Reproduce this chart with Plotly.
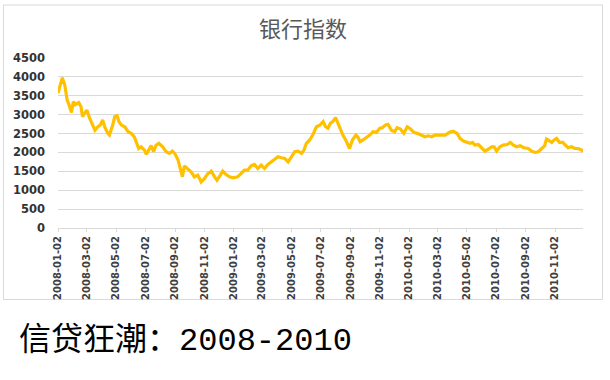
import plotly.graph_objects as go

# ---- data ----
dates = [
    "2008-01-02", "2008-01-11", "2008-01-16", "2008-01-21", "2008-01-25", "2008-01-30",
    "2008-02-03", "2008-02-07", "2008-02-14", "2008-02-19", "2008-02-22", "2008-02-26",
    "2008-03-02", "2008-03-08", "2008-03-15", "2008-03-19", "2008-03-25", "2008-03-30",
    "2008-04-04", "2008-04-08", "2008-04-15", "2008-04-18", "2008-04-25", "2008-04-29",
    "2008-05-04", "2008-05-08", "2008-05-13", "2008-05-20", "2008-05-27", "2008-06-03",
    "2008-06-09", "2008-06-14", "2008-06-18", "2008-06-23", "2008-06-30", "2008-07-04",
    "2008-07-09", "2008-07-14", "2008-07-19", "2008-07-24", "2008-07-30", "2008-08-07",
    "2008-08-14", "2008-08-21", "2008-08-27", "2008-09-01", "2008-09-08", "2008-09-12",
    "2008-09-17", "2008-09-21", "2008-09-28", "2008-10-05", "2008-10-12", "2008-10-19",
    "2008-10-26", "2008-11-02", "2008-11-09", "2008-11-16", "2008-11-23", "2008-11-28",
    "2008-12-05", "2008-12-10", "2008-12-17", "2008-12-24", "2009-01-01", "2009-01-10",
    "2009-01-17", "2009-01-24", "2009-01-31", "2009-02-07", "2009-02-14", "2009-02-21",
    "2009-02-28", "2009-03-07", "2009-03-14", "2009-03-21", "2009-03-28", "2009-04-04",
    "2009-04-11", "2009-04-18", "2009-04-25", "2009-05-02", "2009-05-09", "2009-05-16",
    "2009-05-23", "2009-05-28", "2009-06-02", "2009-06-09", "2009-06-16", "2009-06-23",
    "2009-06-30", "2009-07-07", "2009-07-12", "2009-07-17", "2009-07-22", "2009-07-27",
    "2009-08-02", "2009-08-07", "2009-08-12", "2009-08-17", "2009-08-23", "2009-08-28",
    "2009-08-31", "2009-09-06", "2009-09-13", "2009-09-17", "2009-09-22", "2009-09-28",
    "2009-10-05", "2009-10-12", "2009-10-19", "2009-10-26", "2009-11-02", "2009-11-07",
    "2009-11-14", "2009-11-19", "2009-11-26", "2009-12-03", "2009-12-08", "2009-12-15",
    "2009-12-22", "2009-12-29", "2010-01-05", "2010-01-12", "2010-01-19", "2010-01-26",
    "2010-02-04", "2010-02-11", "2010-02-18", "2010-02-25", "2010-03-04", "2010-03-11",
    "2010-03-18", "2010-03-28", "2010-04-04", "2010-04-12", "2010-04-18", "2010-04-25",
    "2010-05-02", "2010-05-09", "2010-05-14", "2010-05-19", "2010-05-26", "2010-06-02",
    "2010-06-09", "2010-06-16", "2010-06-23", "2010-06-28", "2010-07-03", "2010-07-10",
    "2010-07-17", "2010-07-25", "2010-08-01", "2010-08-07", "2010-08-14", "2010-08-21",
    "2010-08-29", "2010-09-07", "2010-09-14", "2010-09-21", "2010-09-28", "2010-10-05",
    "2010-10-11", "2010-10-15", "2010-10-21", "2010-10-26", "2010-10-31", "2010-11-05",
    "2010-11-11", "2010-11-18", "2010-11-22", "2010-11-29", "2010-12-06", "2010-12-13",
    "2010-12-20", "2010-12-27", "2010-12-31",
]
bank_index = [
    3570, 3980, 3790, 3390, 3260, 3060,
    3345, 3260, 3320, 3210, 2950, 3035,
    3120, 2900, 2680, 2590, 2680, 2725,
    2860, 2680, 2500, 2460, 2725, 2950,
    2975, 2815, 2725, 2680, 2550, 2500,
    2410, 2240, 2105, 2150, 2060, 1950,
    2060, 2180, 2020, 2190, 2240, 2150,
    2020, 1975, 2035, 1975, 1800, 1620,
    1355, 1640, 1550, 1487, 1354, 1400,
    1220, 1310, 1440, 1505, 1355, 1265,
    1400, 1505, 1415, 1355, 1330, 1355,
    1440, 1530, 1530, 1645, 1680, 1575,
    1665, 1575, 1680, 1750, 1795, 1885,
    1860, 1840, 1750, 1885, 2020, 2035,
    1975, 2060, 2240, 2330, 2480, 2680,
    2720, 2815, 2680, 2640, 2770, 2815,
    2920, 2770, 2590, 2460, 2330, 2150,
    2105, 2330, 2460, 2415, 2285, 2330,
    2390, 2460, 2550, 2530, 2640, 2655,
    2725, 2745, 2590, 2550, 2655, 2620,
    2505, 2680, 2620, 2530, 2505, 2460,
    2415, 2440, 2415, 2460, 2460, 2480,
    2460, 2540, 2565, 2505, 2370, 2300,
    2265, 2240, 2265, 2195, 2210, 2125,
    2035, 2090, 2150, 2150, 2035, 2150,
    2195, 2210, 2265, 2195, 2150, 2175,
    2125, 2105, 2035, 2000, 2020, 2105,
    2175, 2355, 2300, 2265, 2330, 2370,
    2265, 2265, 2210, 2125, 2150, 2105,
    2105, 2060, 2035,
]
tick_labels = [
    "2008-01-02", "2008-03-02", "2008-05-02", "2008-07-02", "2008-09-02", "2008-11-02",
    "2009-01-02", "2009-03-02", "2009-05-02", "2009-07-02", "2009-09-02", "2009-11-02",
    "2010-01-02", "2010-03-02", "2010-05-02", "2010-07-02", "2010-09-02", "2010-11-02",
]
y_ticks = [0, 500, 1000, 1500, 2000, 2500, 3000, 3500, 4000, 4500]
title_text = "银行指数"
caption_cn = "信贷狂潮："
caption_years = "2008-2010"

# ---- figure ----
W, H = 610, 380
L, R, T, B = 58, 27, 58, 152
pw, ph = W - L - R, H - T - B

def px_x(x):
    return (x - L) / pw

def px_y(y):
    return (H - B - y) / ph

fig = go.Figure()
fig.add_trace(go.Scatter(
    x=dates, y=bank_index, mode="lines",
    line=dict(color="#FFC000", width=3.2),
    hoverinfo="skip", showlegend=False,
))

fig.update_layout(
    width=W, height=H,
    margin=dict(l=L, r=R, t=T, b=B, pad=0),
    paper_bgcolor="white", plot_bgcolor="white",
    showlegend=False,
    xaxis=dict(
        type="date",
        range=["2008-01-02", "2010-12-30"],
        tickmode="array", tickvals=tick_labels, ticktext=tick_labels,
        tickangle=-90,
        showgrid=False, zeroline=False,
        showline=True, linecolor="#D9D9D9", linewidth=1,
        ticks="outside", ticklen=3, tickcolor="#D9D9D9",
        tickfont=dict(family="DejaVu Sans", size=10, color="#404040", weight="bold"),
    ),
    yaxis=dict(
        range=[0, 4500],
        tickmode="array", tickvals=y_ticks,
        showgrid=True, gridcolor="#D9D9D9", gridwidth=1,
        zeroline=False, showline=False, ticks="",
        ticklabelstandoff=12,
        tickfont=dict(family="DejaVu Sans", size=11.5, color="#333333", weight="bold"),
    ),
    shapes=[dict(
        type="rect", xref="paper", yref="paper",
        x0=px_x(3.5), x1=px_x(602.5), y0=px_y(299.5), y1=px_y(5),
        line=dict(color="#D9D9D9", width=1), fillcolor="rgba(0,0,0,0)", layer="below",
    )],
    annotations=[
        dict(
            text=title_text, xref="paper", yref="paper",
            x=px_x(303), y=px_y(27.5), xanchor="center", yanchor="middle",
            showarrow=False,
            font=dict(family="Noto Sans CJK SC", size=22, color="#595959"),
        ),
        dict(
            text=(caption_cn + "<span style='font-family:Liberation Mono'>" + caption_years + "</span>"),
            xref="paper", yref="paper",
            x=px_x(17), y=px_y(336), xanchor="left", yanchor="middle",
            showarrow=False,
            font=dict(family="Noto Sans CJK SC", size=32, color="#000000"),
        ),
    ],
)

fig.write_html(
    "out.html",
    config={"displayModeBar": False, "staticPlot": True},
    post_script="document.body.style.margin='0px';document.body.style.overflow='hidden';",
)
